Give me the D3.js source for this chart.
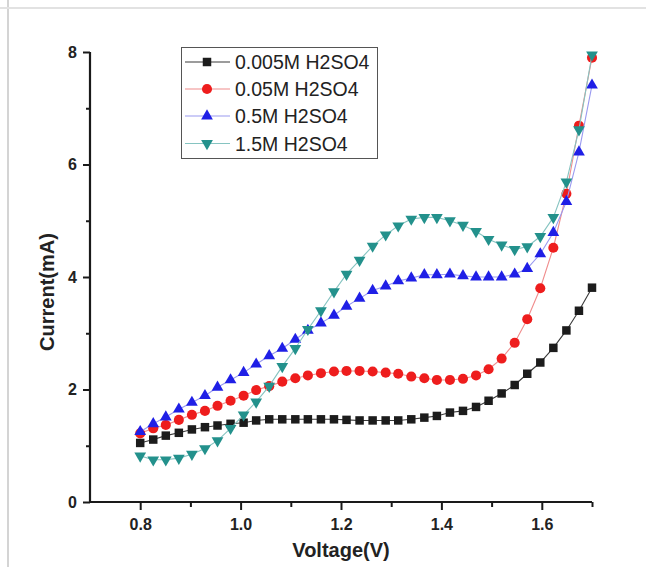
<!DOCTYPE html>
<html><head><meta charset="utf-8">
<script src="https://cdn.jsdelivr.net/npm/d3@7"></script>
<style>
body{margin:0;background:#fff}
text{font-family:"Liberation Sans",Arial,sans-serif}
</style>
</head><body>
<svg id="c" width="646" height="567"></svg>
<script>
// Voltage (V)
const voltage = [0.800,0.826,0.851,0.877,0.903,0.929,0.954,0.980,1.006,1.031,1.057,1.083,1.109,1.134,1.160,1.186,1.211,1.237,1.263,1.289,1.314,1.340,1.366,1.391,1.417,1.443,1.469,1.494,1.520,1.546,1.571,1.597,1.623,1.649,1.674,1.700];
// Current (mA)
const c0005 = [1.05,1.11,1.18,1.23,1.29,1.33,1.36,1.39,1.41,1.45,1.47,1.47,1.47,1.47,1.47,1.47,1.46,1.45,1.45,1.45,1.45,1.47,1.50,1.53,1.59,1.62,1.69,1.80,1.93,2.08,2.28,2.48,2.74,3.05,3.40,3.81];
const c005 = [1.22,1.31,1.37,1.46,1.55,1.62,1.71,1.80,1.89,1.99,2.06,2.14,2.20,2.25,2.29,2.32,2.33,2.33,2.32,2.30,2.28,2.23,2.20,2.17,2.17,2.19,2.25,2.36,2.55,2.83,3.25,3.80,4.52,5.48,6.69,7.90];
const c05 = [1.25,1.39,1.51,1.65,1.77,1.89,2.04,2.17,2.30,2.45,2.60,2.73,2.89,3.05,3.18,3.32,3.48,3.62,3.76,3.84,3.93,3.98,4.04,4.04,4.05,4.02,4.00,4.00,4.00,4.05,4.15,4.41,4.79,5.34,6.22,7.41];
const c15 = [0.82,0.75,0.75,0.78,0.85,0.95,1.09,1.31,1.55,1.78,2.06,2.41,2.73,3.07,3.40,3.74,4.05,4.30,4.55,4.75,4.91,5.03,5.06,5.06,5.00,4.92,4.81,4.67,4.57,4.49,4.54,4.72,5.06,5.69,6.62,7.95];
const seriesNames = ["0.005M H2SO4","0.05M H2SO4","0.5M H2SO4","1.5M H2SO4"];
const xMajorTicks = [0.8,1.0,1.2,1.4,1.6];
const xMinorTicks = [0.9,1.1,1.3,1.5,1.7];
const yMajorTicks = [0,2,4,6,8];
const yMinorTicks = [1,3,5,7];
const xTitle = "Voltage(V)";
const yTitle = "Current(mA)";

const styles = [
  {fill:"#1c1c1c", line:"#3a3a3a", sym:d3.symbolSquare, size:72, rot:0},
  {fill:"#ee1d1d", line:"#f08c8c", sym:d3.symbolCircle, size:80, rot:0},
  {fill:"#1f1fe6", line:"#9a9af0", sym:d3.symbolTriangle, size:60, rot:0},
  {fill:"#23918c", line:"#86c4c1", sym:d3.symbolTriangle, size:60, rot:180}
];
const seriesValues = [c0005, c005, c05, c15];

const svg = d3.select("#c");
// faint frame of the scanned page
svg.append("line").attr("x1",8).attr("x2",8).attr("y1",0).attr("y2",567).attr("stroke","#d4d4d4").attr("stroke-width",2);
svg.append("line").attr("x1",0).attr("x2",646).attr("y1",8).attr("y2",8).attr("stroke","#e2e2e2").attr("stroke-width",2);

const x = d3.scaleLinear().domain([0.7,1.7]).range([90,592]);
const y = d3.scaleLinear().domain([0,8]).range([502,52]);

// axes
const gx = svg.append("g").attr("transform","translate(0,502)")
  .call(d3.axisBottom(x).tickValues(xMajorTicks).tickSize(8).tickPadding(9).tickFormat(d3.format(".1f")));
const gxm = svg.append("g").attr("transform","translate(0,502)")
  .call(d3.axisBottom(x).tickValues(xMinorTicks).tickSize(5).tickFormat(""));
const gy = svg.append("g").attr("transform","translate(90,0)")
  .call(d3.axisLeft(y).tickValues(yMajorTicks).tickSize(7).tickPadding(6).tickFormat(d3.format("d")));
const gym = svg.append("g").attr("transform","translate(90,0)")
  .call(d3.axisLeft(y).tickValues(yMinorTicks).tickSize(4).tickFormat(""));
[gx,gxm,gy,gym].forEach(g=>{
  g.select(".domain").attr("stroke","#1a1a1a").attr("stroke-width",2.2);
  g.selectAll(".tick line").attr("stroke","#1a1a1a").attr("stroke-width",2);
  g.selectAll("text").attr("font-family","Liberation Sans, Arial, sans-serif")
   .attr("font-size",16).attr("font-weight","bold").attr("fill","#222");
});
gxm.select(".domain").remove();
gym.select(".domain").remove();
gx.select(".domain").attr("d","M90,0H592");
gy.select(".domain").attr("d","M0,503V52");

// titles
svg.append("text").attr("x",341).attr("y",557).attr("text-anchor","middle")
  .attr("font-size",20).attr("font-weight","bold").attr("fill","#222").text(xTitle);
svg.append("text").attr("transform","translate(54,292) rotate(-90)").attr("text-anchor","middle")
  .attr("font-size",20).attr("font-weight","bold").attr("fill","#222").text(yTitle);

// series
const line = d3.line().x((d,i)=>x(voltage[i])).y(d=>y(d));
seriesValues.forEach((vals,k)=>{
  const st = styles[k];
  svg.append("path").attr("d",line(vals)).attr("fill","none").attr("stroke",st.line).attr("stroke-width",1.1);
  svg.append("g").selectAll("path").data(vals).join("path")
    .attr("d",d3.symbol().type(st.sym).size(st.size))
    .attr("transform",(d,i)=>`translate(${x(voltage[i])},${y(d)}) rotate(${st.rot})`)
    .attr("fill",st.fill);
});

// legend
const lg = svg.append("g");
lg.append("rect").attr("x",181.5).attr("y",47.5).attr("width",196).attr("height",111)
  .attr("fill","#fff").attr("stroke","#555").attr("stroke-width",1);
const rowY = [62,89,116,143.5];
seriesNames.forEach((name,k)=>{
  const st = styles[k];
  lg.append("line").attr("x1",185).attr("x2",230).attr("y1",rowY[k]).attr("y2",rowY[k])
    .attr("stroke",st.line).attr("stroke-width",1.1);
  lg.append("path").attr("d",d3.symbol().type(st.sym).size(st.size)())
    .attr("transform",`translate(207,${rowY[k]}) rotate(${st.rot})`).attr("fill",st.fill);
  lg.append("text").attr("x",235).attr("y",rowY[k]+7).attr("font-size",19.5)
    .attr("fill","#222").text(name);
});
</script>
</body></html>
